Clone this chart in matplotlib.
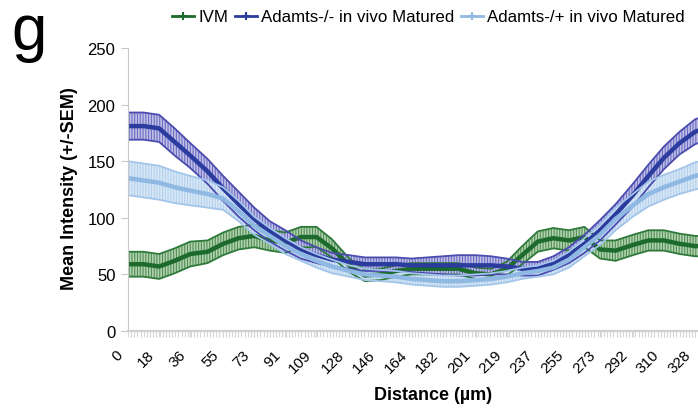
import matplotlib
matplotlib.use("Agg")
import matplotlib.pyplot as plt
from matplotlib.ticker import MultipleLocator
from matplotlib.transforms import ScaledTranslation
from matplotlib.lines import Line2D

plt.rcParams['font.family'] = ['Liberation Sans', 'DejaVu Sans']
plt.rcParams['hatch.linewidth'] = 0.8

# Intensity profile across the oocyte-cumulus complex (mean +/- SEM)
distance = [0, 9, 18, 27, 36, 46, 55, 64, 73, 82, 91, 100, 109, 118, 128, 137, 146,
            155, 164, 173, 182, 191, 201, 210, 219, 228, 237, 246, 255, 264, 273,
            282, 292, 301, 310, 319, 328, 337]

ivm_mean = [59, 59, 57, 62, 68, 70, 77, 82, 84, 80, 78, 83, 83, 73, 58, 49, 50,
            53, 55, 55, 55, 55, 51, 50, 55, 67, 79, 82, 80, 83, 72,
            71, 76, 80, 80, 77, 75, 75]
ivm_sem = [11, 11, 11, 11, 11, 10, 10, 10, 10, 9, 9, 9, 9, 8, 6, 5, 5,
           5, 5, 5, 5, 5, 5, 5, 6, 8, 9, 9, 9, 9, 8,
           9, 9, 9, 9, 9, 9, 9]

ko_mean = [181, 181, 179, 167, 155, 141, 126, 112, 99, 88, 80, 72, 67, 63, 61, 59, 59,
           59, 58, 58, 58, 58, 58, 58, 57, 55, 55, 60, 67, 77, 89,
           103, 120, 137, 153, 166, 176, 181]
ko_sem = [12, 12, 12, 12, 11, 11, 11, 11, 10, 9, 9, 8, 7, 6, 6, 6, 6,
          6, 6, 7, 8, 9, 9, 8, 7, 6, 6, 6, 7, 8, 9,
          9, 10, 10, 10, 10, 11, 11]

het_mean = [135, 133, 131, 127, 124, 121, 117, 106, 93, 84, 75, 68, 62, 57, 53, 50, 49,
            48, 46, 45, 44, 44, 45, 46, 48, 51, 53, 56, 63, 74, 85,
            99, 111, 121, 127, 132, 137, 140]
het_sem = [15, 15, 15, 14, 13, 12, 10, 9, 8, 7, 7, 6, 6, 6, 5, 5, 5,
           5, 5, 5, 5, 5, 5, 5, 5, 5, 5, 6, 7, 8, 9,
           10, 10, 11, 11, 11, 12, 12]

tick_labels = ['0', '18', '36', '55', '73', '91', '109', '128', '146', '164', '182',
               '201', '219', '237', '255', '273', '292', '310', '328']

series = [
    ("IVM", ivm_mean, ivm_sem,
     dict(line='#1c6b2c', fill='#b3d1ad', hatch='#4f8f58', edge='#2f7a3a')),
    ("Adamts-/- in vivo Matured", ko_mean, ko_sem,
     dict(line='#2b3b9e', fill='#c0c0e6', hatch='#6d6dc4', edge='#4b4bb0')),
    ("Adamts-/+ in vivo Matured", het_mean, het_sem,
     dict(line='#8fb8e3', fill='#dae8f6', hatch='#b2d0ee', edge='#a3c5ea')),
]

W, H = 698, 410
fig = plt.figure(figsize=(W / 100, H / 100), dpi=100)
ax = fig.add_axes([128 / W, 78 / H, 365 * 1.729 / W, 283 / H])

handles = []
for name, mean, sem, c in series:
    lo = [m - s for m, s in zip(mean, sem)]
    hi = [m + s for m, s in zip(mean, sem)]
    ax.fill_between(distance, lo, hi, facecolor=c['fill'], edgecolor=c['hatch'],
                    hatch='||||||', linewidth=0)
    ax.plot(distance, hi, color=c['edge'], lw=1.3)
    ax.plot(distance, lo, color=c['edge'], lw=1.3)
    ax.plot(distance, mean, color=c['line'], lw=3.2, solid_capstyle='round')
    handles.append(Line2D([], [], color=c['line'], lw=2, marker='+',
                          markersize=6, markeredgewidth=1.5, label=name))

ax.set_xlim(0, 365)
ax.set_ylim(0, 250)
ax.set_yticks(range(0, 251, 50))
ax.set_xticks([float(t) for t in tick_labels])
ax.set_xticklabels(tick_labels, rotation=45, ha='right', va='center',
                   rotation_mode='anchor', fontsize=11)
ax.xaxis.set_minor_locator(MultipleLocator(1.823))

for side in ('top', 'right'):
    ax.spines[side].set_visible(False)
ax.spines['left'].set_color('#c8c8c8')
ax.spines['bottom'].set_color('#cfcfcf')
ax.spines['bottom'].set_linewidth(1.6)
ax.tick_params(axis='y', direction='out', length=5, width=0.8, color='#c8c8c8',
               labelsize=12, pad=4)
ax.tick_params(axis='x', which='both', direction='out', length=4, width=0.8,
               color='#d6d6d6', pad=11)

offset = ScaledTranslation(-5 / 72, 0, fig.dpi_scale_trans)
for lbl in ax.get_xticklabels():
    lbl.set_transform(lbl.get_transform() + offset)

fig.text(70 / W, 1 - 189 / H, 'Mean Intensity (+/-SEM)', rotation=90,
         ha='center', va='center', fontsize=13, fontweight='bold')
fig.text(433 / W, 1 - 396 / H, 'Distance (\u00b5m)', ha='center', va='center',
         fontsize=13, fontweight='bold')
fig.text(11 / W, 1 - 50 / H, 'g', fontsize=46, va='baseline', ha='left')

fig.legend(handles=handles, loc='center left', bbox_to_anchor=(172 / W, 1 - 18 / H),
           ncol=3, frameon=False, fontsize=12.2, handlelength=1.3,
           handletextpad=0.25, columnspacing=0.4, borderpad=0, borderaxespad=0)

fig.savefig('out.png', dpi=100)
